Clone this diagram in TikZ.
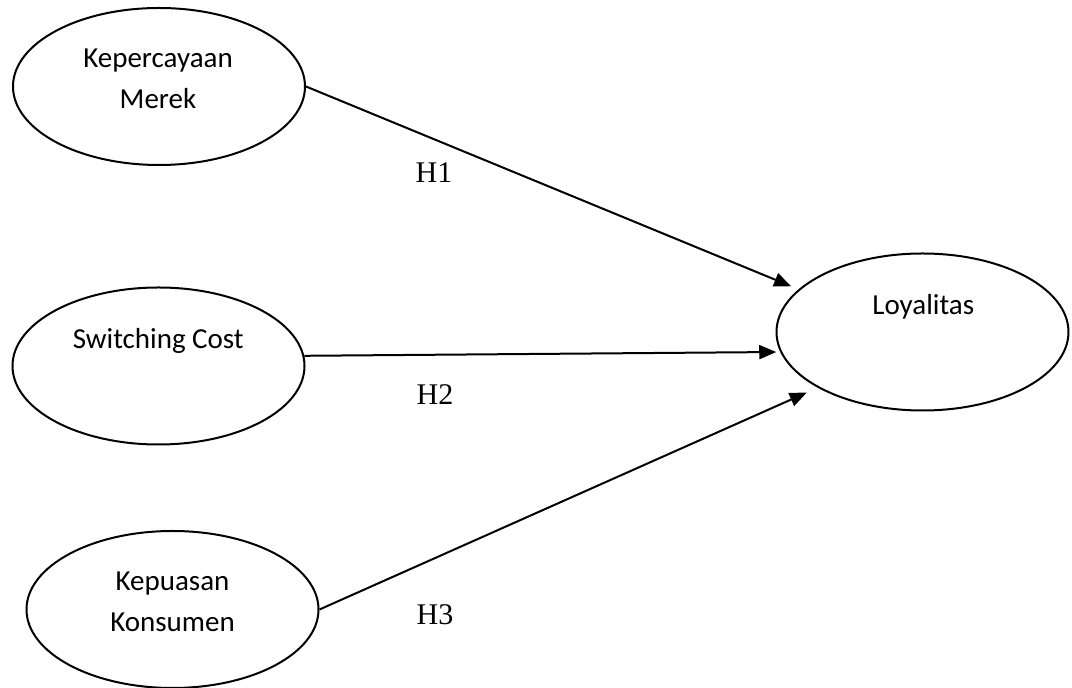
\documentclass[tikz,border=0pt]{standalone}
\usepackage{fontspec}
\setmainfont{Liberation Serif}
\newfontfamily\calibri{Carlito}
\usetikzlibrary{arrows.meta,
                shapes.geometric
                }

\begin{document}
\begin{tikzpicture}[x=0.5pt, y=-0.5pt,
    VAR/.style = {ellipse, draw, line width=1pt,
                  minimum width=146pt, minimum height=78.5pt,
                  inner sep=0pt},
    TXT/.style = {inner sep=0pt, align=center,
                  font=\calibri\fontsize{14.5}{20.5}\selectfont},
     HL/.style = {inner sep=0pt, font=\fontsize{15}{18}\selectfont},
    ARR/.style = {line width=1pt,
                  -{Triangle[length=8.5pt, width=7pt]},
                  shorten >=#1},
  ARR/.default = 0pt
                    ]
\useasboundingbox (0,0) rectangle (1072,688);
% variables
\node[VAR] (kep) at (159,86.5)    {};
\node[VAR] (swc) at (158.5,366)   {};
\node[VAR] (kpu) at (172.5,609.5) {};
\node[VAR] (loy) at (922.5,332)   {};
\node[TXT] (kep-t) at (158,79)    {Kepercayaan\\Merek};
\node[TXT] (swc-t) at (158.3,340.5) {Switching Cost};
\node[TXT] (kpu-t) at (172.5,601.7) {Kepuasan\\Konsumen};
\node[TXT] (loy-t) at (923.3,306.5) {Loyalitas};
% hypotheses
\draw[ARR=4pt]  (kep.east) -- (loy.161);
\draw[ARR=2pt]  (swc.4)    -- (loy.188);
\draw[ARR=6pt]  (kpu.east) -- (loy.208);
\node[HL] (h1) at (434,173) {H1};
\node[HL] (h2) at (435,395) {H2};
\node[HL] (h3) at (435,615) {H3};
\end{tikzpicture}
\end{document}
